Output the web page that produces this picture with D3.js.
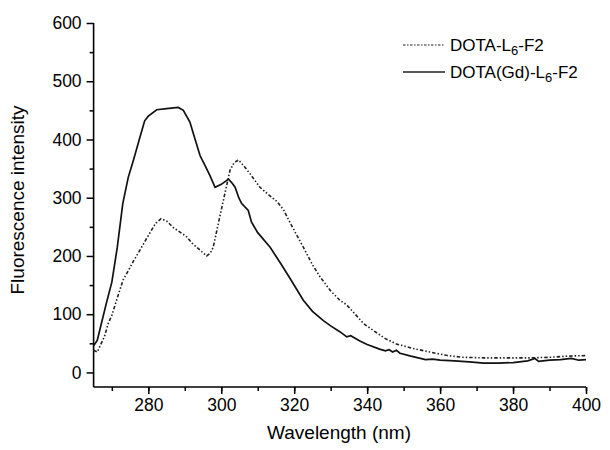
<!DOCTYPE html>
<html><head><meta charset="utf-8">
<script src="https://cdn.jsdelivr.net/npm/d3@7"></script>
<style>body{margin:0;background:#fff}svg{display:block}text{font-family:"Liberation Sans",Arial,sans-serif;fill:#000}</style>
</head><body><svg id="c" width="610" height="450"></svg>
<script>
const xTicks = [280, 300, 320, 340, 360, 380, 400];
const yTicks = [0, 100, 200, 300, 400, 500, 600];
const seriesNames = ["DOTA-L", "DOTA(Gd)-L"];
const gdWave = [265,266,266.7,268.5,270,271.5,273,274.5,276,277.7,279,280,282.3,285,288.2,289.6,291.4,292.8,294.2,295.5,296.9,298.3,300,302,303,303.8,304.8,305.6,307.4,308.3,310,313.4,316.6,319,322.5,325,328,330,332.5,334.4,335.5,338,340,343.4,345,346,347,348,349,352,356,358,360,364,368,372,376,380,384,386,387,390,393,396,398,400];
const gdVal = [46,55,73,119,155,215,290,335,366,404,432,440,451,453,455,450,430,401,372,356,338,318,323,332,325,318,300,290,278,258,240,215,184,160,124,105,89,80,70,61,63,54,48,40,37,39,35,38,33,28,22,23,21,20,18,16,16,17,20,24,19,21,22,24,21,22];
const dotaWave = [265,266,268,269,270,271.5,273.1,274.1,276,277.7,280,282,283.5,285,287,288.7,290.5,292,294.2,296,297,297.8,299,300.6,302.4,303.5,304.7,306,307.9,310.6,313,315.2,317,318.8,320.5,322.5,325,327.1,330,332.5,334.4,337,339,341.7,345,348,352,357.2,362,366.3,372,378,384.6,390,395,400];
const dotaVal = [38,35,62,84,98,128,159,170,192,210,235,256,264,260,248,241,233,222,210,200,205,215,250,296,347,360,365,356,341,318,305,294,280,258,238,215,185,164,140,124,116,98,84,72,58,49,42,35,29,26,25,25,25,26,28,29];

const svg = d3.select("#c");
const x = d3.scaleLinear().domain([265, 400]).range([93.6, 586]);
const y = d3.scaleLinear().domain([-25, 600]).range([387, 23]);

// axes
const gx = svg.append("g").attr("transform", "translate(0,387)");
gx.call(d3.axisBottom(x).tickValues(d3.range(270, 401, 10)).tickSize(4).tickFormat(""));
gx.call(g => g.selectAll(".tick line").attr("stroke-width", 1.5));
const gx2 = svg.append("g").attr("transform", "translate(0,387)");
gx2.call(d3.axisBottom(x).tickValues(xTicks).tickSize(7).tickPadding(5).tickFormat(d3.format("d")));
gx2.select(".domain").remove();
gx.select(".domain").attr("d", `M${x(265)},0H${x(400)}`).attr("stroke-width", 1.6);
gx2.selectAll(".tick line").attr("stroke-width", 1.5);
gx2.selectAll("text").style("font-size", "17.5px").attr("font-family", null);

const gy = svg.append("g").attr("transform", "translate(93.6,0)");
gy.call(d3.axisLeft(y).tickValues(d3.range(50, 600, 100)).tickSize(4).tickFormat(""));
gy.select(".domain").attr("d", `M0,${y(-25)}V${y(600)}`).attr("stroke-width", 1.6);
gy.selectAll(".tick line").attr("stroke-width", 1.5);
const gy2 = svg.append("g").attr("transform", "translate(93.6,0)");
gy2.call(d3.axisLeft(y).tickValues(yTicks).tickSize(7).tickPadding(5).tickFormat(d3.format("d")));
gy2.select(".domain").remove();
gy2.selectAll(".tick line").attr("stroke-width", 1.5);
gy2.selectAll("text").style("font-size", "17.5px").attr("font-family", null);

// titles
svg.append("text").attr("x", 339).attr("y", 439).attr("text-anchor", "middle").style("font-size", "19px").text("Wavelength (nm)");
svg.append("text").attr("transform", "translate(24,200) rotate(-90)").attr("text-anchor", "middle").style("font-size", "19px").text("Fluorescence intensity");

// lines
const line = d3.line().x(d => x(d[0])).y(d => y(d[1]));
const dota = dotaWave.map((w, i) => [w, dotaVal[i]]);
const gd = gdWave.map((w, i) => [w, gdVal[i]]);
svg.append("path").datum(dota).attr("d", line).attr("fill", "none").attr("stroke", "#222").attr("stroke-width", 1.6).attr("stroke-dasharray", "3.5,2,1.5,2,1.5,2");
svg.append("path").datum(gd).attr("d", line).attr("fill", "none").attr("stroke", "#111").attr("stroke-width", 1.7);

// legend
const leg = [{y: 45, dash: "2.5,1.5,1.5,1.5", name: seriesNames[0]}, {y: 72, dash: null, name: seriesNames[1]}];
leg.forEach(l => {
  svg.append("line").attr("x1", 403).attr("x2", 445).attr("y1", l.y).attr("y2", l.y)
    .attr("stroke", "#222").attr("stroke-width", l.dash ? 1.2 : 1.5).attr("stroke-dasharray", l.dash);
  const t = svg.append("text").attr("x", 450).attr("y", l.y + 6).style("font-size", "17px");
  t.append("tspan").text(l.name);
  t.append("tspan").attr("dy", 4).style("font-size", "13px").text("6");
  t.append("tspan").attr("dy", -4).text("-F2");
});
</script></body></html>
